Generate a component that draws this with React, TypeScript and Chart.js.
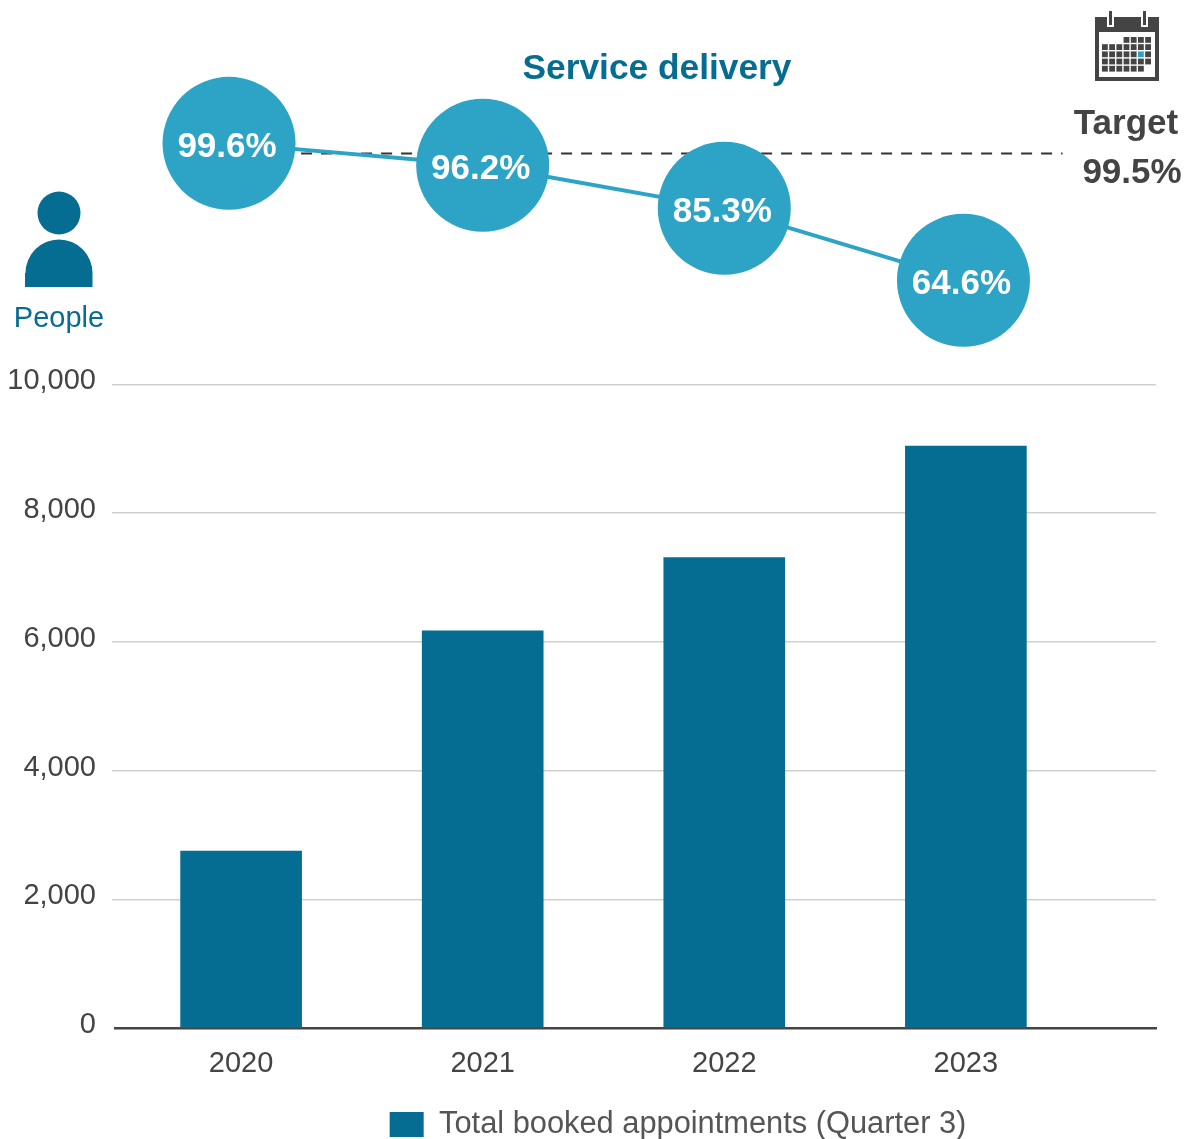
import React, { useEffect, useRef } from "react";
import { Chart, registerables } from "chart.js";

Chart.register(...registerables);

const years = [2020, 2021, 2022, 2023];
const appointments = [2750, 6170, 7310, 9040];
const yTicks = [0, 2000, 4000, 6000, 8000, 10000];
const bubbleX = [2019.95, 2021, 2022, 2022.99];
const bubbleLevels = [99.6, 94, 83, 64.6];
const bubbleLabels = ["99.6%", "96.2%", "85.3%", "64.6%"];
const targetX = [2020, 2023.4];
const targetLevels = [97, 97];
const FONT = "'Liberation Sans', Arial, sans-serif";
const TEAL = "#056d92";
const BLUE = "#2da3c5";
const GREY = "#444444";

const overlay = {
  id: "overlay",
  afterLayout(chart: any) {
    const lg = chart.legend;
    if (lg) { lg.left += 100; lg.right += 100; lg.top += 11; lg.bottom += 11; }
  },
  afterDatasetsDraw(chart: any) {
    const c = chart.ctx;
    c.save();
    const meta = chart.getDatasetMeta(1);
    c.textAlign = "center";
    c.textBaseline = "middle";
    c.fillStyle = "#ffffff";
    c.font = `bold 35px ${FONT}`;
    meta.data.forEach((p: any, i: number) => c.fillText(bubbleLabels[i], p.x - 2, p.y + 4));
    c.fillStyle = TEAL;
    c.font = `bold 35.3px ${FONT}`;
    c.fillText("Service delivery", 657, 69);
    c.fillStyle = GREY;
    c.font = `bold 35px ${FONT}`;
    c.fillText("Target", 1126, 124);
    c.fillText("99.5%", 1132, 173);
    c.fillStyle = TEAL;
    c.font = `29px ${FONT}`;
    c.fillText("People", 59, 319);
    c.beginPath();
    c.arc(59, 213, 21.5, 0, Math.PI * 2);
    c.fill();
    c.beginPath();
    c.moveTo(25, 287);
    c.lineTo(25, 273);
    c.arc(59, 273, 33.5, Math.PI, 0);
    c.lineTo(92.5, 287);
    c.closePath();
    c.fill();
    c.fillStyle = GREY;
    c.fillRect(1095, 17, 64, 64);
    c.fillStyle = "#ffffff";
    c.fillRect(1099, 32, 56, 45);
    c.fillRect(1107, 11, 7, 16);
    c.fillRect(1141, 11, 7, 16);
    c.fillStyle = GREY;
    c.fillRect(1109, 11, 3, 14);
    c.fillRect(1143, 11, 3, 14);
    for (let r = 0; r < 5; r++) {
      for (let k = 0; k < 7; k++) {
        if ((r === 0 && k < 3) || (r === 4 && k > 5)) continue;
        c.fillStyle = r === 2 && k === 5 ? BLUE : GREY;
        c.fillRect(1102 + k * 7.2, 37 + r * 7.2, 5.8, 5.8);
      }
    }
    c.restore();
  },
};

export default function App() {
  const ref = useRef<HTMLCanvasElement>(null);
  useEffect(() => {
    const chart = new Chart(ref.current!, {
      type: "bar",
      plugins: [overlay],
      data: {
        datasets: [
          {
            type: "bar",
            label: "Total booked appointments (Quarter 3)",
            data: years.map((y, i) => ({ x: y, y: appointments[i] })),
            backgroundColor: TEAL,
            barThickness: 121,
            xAxisID: "x",
            yAxisID: "y",
            order: 3,
          },
          {
            type: "line",
            label: "Service delivery",
            data: bubbleX.map((x, i) => ({ x, y: bubbleLevels[i] })),
            borderColor: BLUE,
            borderWidth: 4,
            backgroundColor: BLUE,
            pointBackgroundColor: BLUE,
            pointBorderWidth: 0,
            pointRadius: 66.5,
            xAxisID: "x",
            yAxisID: "level",
            clip: false,
            order: 1,
          },
          {
            type: "line",
            label: "Target",
            data: targetX.map((x, i) => ({ x, y: targetLevels[i] })),
            borderColor: "#333333",
            borderWidth: 2,
            borderDash: [11, 9],
            pointRadius: 0,
            xAxisID: "x",
            yAxisID: "level",
            order: 2,
          },
        ],
      } as any,
      options: {
        responsive: false,
        animation: false,
        layout: { autoPadding: false, padding: { left: 0, right: 30, top: 0, bottom: 0 } },
        plugins: {
          tooltip: { enabled: false },
          title: { display: false },
          legend: {
            position: "bottom",
            labels: {
              filter: (it: any) => it.datasetIndex === 0,
              boxWidth: 34,
              boxHeight: 25,
              padding: 4,
              color: "#555555",
              font: { family: FONT, size: 30.8 },
            },
          },
        },
        scales: {
          x: {
            type: "linear",
            offset: false,
            min: 2019.478,
            max: 2023.787,
            afterBuildTicks: (s: any) => {
              s.ticks = years.map((v) => ({ value: v }));
            },
            afterFit: (s: any) => { s.height = 66; },
            ticks: {
              callback: (v: any) => String(v),
              autoSkip: false,
              maxRotation: 0,
              color: GREY,
              padding: 18,
              font: { family: FONT, size: 29 },
            },
            grid: { display: false, drawTicks: false },
            border: { display: true, color: "#444444", width: 2.5 },
          },
          y: {
            min: 0,
            max: 15450,
            afterBuildTicks: (s: any) => {
              s.ticks = yTicks.map((v) => ({ value: v }));
            },
            afterFit: (s: any) => { s.width = 115; },
            ticks: {
              color: GREY,
              padding: 16,
              labelOffset: -3,
              font: { family: FONT, size: 29 },
              callback: (v: any) => Number(v).toLocaleString("en-US"),
            },
            grid: {
              color: "#cfcfcf",
              lineWidth: 1.5,
              tickLength: 3,
              tickColor: (ctx: any) => (ctx.tick && ctx.tick.value === 0 ? "transparent" : "#cfcfcf"),
            },
            border: { display: false },
          },
          level: { display: false, min: -126.5, max: 127.7 },
        },
      } as any,
    });
    return () => chart.destroy();
  }, []);
  return (
    <div style={{ position: "absolute", left: 0, top: 0 }}>
      <canvas ref={ref} width={1186} height={1139} style={{ display: "block" }} />
    </div>
  );
}
